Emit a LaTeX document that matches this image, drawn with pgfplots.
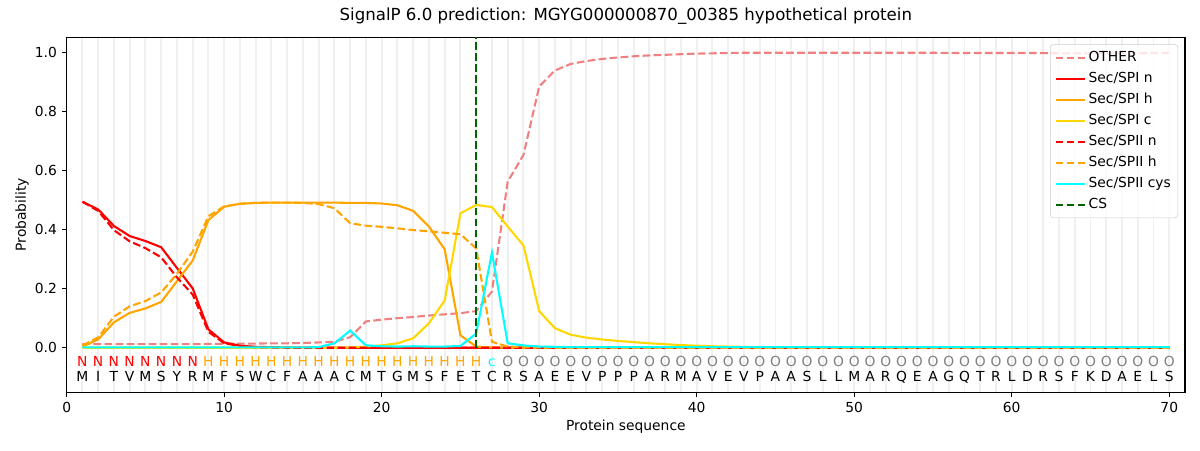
\documentclass[border=0pt]{standalone}
\usepackage{fontspec}
\setmainfont{DejaVu Sans}
\usepackage{pgfplots}
\pgfplotsset{compat=1.18}
\usepackage{pgfplotstable}
\definecolor{lightcoral}{HTML}{F08080}
\definecolor{mplorange}{HTML}{FFA500}
\definecolor{mplgold}{HTML}{FFD700}
\definecolor{mplcyan}{HTML}{00FFFF}
\definecolor{mplgreen}{HTML}{006400}
\definecolor{mplred}{HTML}{FF0000}
\definecolor{mplgray}{HTML}{808080}

\pgfplotsset{
  letter/.style={draw=none, mark=none, forget plot, nodes near coords, point meta=explicit symbolic,
     every node near coord/.append style={anchor=base, inner sep=0pt, font=\fontsize{10}{12}\selectfont, text=#1}},
  mpldash/.style={dash pattern=on 5.55bp off 2.4bp},
}

\pgfplotstableread{
x other spin spih spic spiin spiih cys
1 0.012 0.494 0.004 0.000 0.494 0.008 0.001
2 0.012 0.468 0.028 0.000 0.463 0.035 0.001
3 0.012 0.412 0.086 0.000 0.398 0.105 0.001
4 0.012 0.378 0.118 0.000 0.360 0.140 0.001
5 0.012 0.361 0.133 0.000 0.337 0.158 0.001
6 0.012 0.340 0.155 0.000 0.306 0.187 0.001
7 0.012 0.270 0.225 0.000 0.238 0.250 0.001
8 0.012 0.201 0.295 0.000 0.180 0.325 0.001
9 0.013 0.062 0.432 0.000 0.054 0.445 0.001
10 0.013 0.018 0.477 0.000 0.015 0.478 0.001
11 0.014 0.007 0.487 0.000 0.006 0.487 0.001
12 0.014 0.003 0.490 0.000 0.002 0.490 0.001
13 0.015 0.002 0.491 0.000 0.001 0.491 0.001
14 0.015 0.001 0.491 0.000 0.000 0.491 0.001
15 0.016 0.000 0.491 0.000 0.000 0.490 0.001
16 0.018 0.000 0.491 0.000 0.000 0.486 0.002
17 0.020 0.000 0.491 0.000 0.000 0.472 0.015
18 0.036 0.000 0.490 0.001 0.000 0.421 0.058
19 0.089 0.000 0.490 0.004 0.000 0.413 0.008
20 0.095 0.000 0.488 0.008 0.000 0.409 0.005
21 0.100 0.000 0.482 0.015 0.000 0.404 0.004
22 0.104 0.000 0.463 0.032 0.000 0.398 0.005
23 0.109 0.000 0.410 0.083 0.000 0.394 0.004
24 0.113 0.000 0.333 0.160 0.000 0.389 0.004
25 0.117 0.000 0.042 0.455 0.000 0.384 0.006
26 0.124 0.000 0.004 0.483 0.000 0.336 0.048
27 0.190 0.000 0.001 0.476 0.000 0.020 0.322
28 0.562 0.000 0.000 0.410 0.000 0.004 0.015
29 0.652 0.000 0.000 0.346 0.000 0.002 0.008
30 0.884 0.000 0.000 0.124 0.000 0.001 0.004
31 0.938 0.000 0.000 0.066 0.000 0.000 0.003
32 0.960 0.000 0.000 0.044 0.000 0.000 0.002
33 0.970 0.000 0.000 0.034 0.000 0.000 0.002
34 0.977 0.000 0.000 0.028 0.000 0.000 0.002
35 0.982 0.000 0.000 0.023 0.000 0.000 0.002
36 0.986 0.000 0.000 0.019 0.000 0.000 0.002
37 0.989 0.000 0.000 0.015 0.000 0.000 0.002
38 0.991 0.000 0.000 0.012 0.000 0.000 0.002
39 0.993 0.000 0.000 0.009 0.000 0.000 0.002
40 0.995 0.000 0.000 0.007 0.000 0.000 0.002
41 0.996 0.000 0.000 0.005 0.000 0.000 0.002
42 0.997 0.000 0.000 0.004 0.000 0.000 0.002
43 0.998 0.000 0.000 0.003 0.000 0.000 0.002
44 0.998 0.000 0.000 0.002 0.000 0.000 0.002
45 0.998 0.000 0.000 0.001 0.000 0.000 0.002
46 0.998 0.000 0.000 0.001 0.000 0.000 0.002
47 0.998 0.000 0.000 0.001 0.000 0.000 0.002
48 0.998 0.000 0.000 0.001 0.000 0.000 0.002
49 0.998 0.000 0.000 0.001 0.000 0.000 0.002
50 0.998 0.000 0.000 0.001 0.000 0.000 0.002
51 0.998 0.000 0.000 0.001 0.000 0.000 0.002
52 0.998 0.000 0.000 0.001 0.000 0.000 0.002
53 0.998 0.000 0.000 0.001 0.000 0.000 0.002
54 0.998 0.000 0.000 0.001 0.000 0.000 0.002
55 0.998 0.000 0.000 0.001 0.000 0.000 0.002
56 0.997 0.000 0.000 0.001 0.000 0.000 0.002
57 0.997 0.000 0.000 0.001 0.000 0.000 0.002
58 0.997 0.000 0.000 0.001 0.000 0.000 0.002
59 0.997 0.000 0.000 0.001 0.000 0.000 0.002
60 0.997 0.000 0.000 0.001 0.000 0.000 0.002
61 0.997 0.000 0.000 0.001 0.000 0.000 0.002
62 0.997 0.000 0.000 0.001 0.000 0.000 0.002
63 0.996 0.000 0.000 0.001 0.000 0.000 0.002
64 0.996 0.000 0.000 0.001 0.000 0.000 0.002
65 0.996 0.000 0.000 0.001 0.000 0.000 0.002
66 0.996 0.000 0.000 0.001 0.000 0.000 0.002
67 0.996 0.000 0.000 0.001 0.000 0.000 0.002
68 0.996 0.000 0.000 0.001 0.000 0.000 0.002
69 0.997 0.000 0.000 0.001 0.000 0.000 0.002
70 0.998 0.000 0.000 0.001 0.000 0.000 0.002
}\probs

\pgfplotstableread{
x y t
1 -0.113 M
2 -0.113 I
3 -0.113 T
4 -0.113 V
5 -0.113 M
6 -0.113 S
7 -0.113 Y
8 -0.113 R
9 -0.113 M
10 -0.113 F
11 -0.113 S
12 -0.113 W
13 -0.113 C
14 -0.113 F
15 -0.113 A
16 -0.113 A
17 -0.113 A
18 -0.113 C
19 -0.113 M
20 -0.113 T
21 -0.113 G
22 -0.113 M
23 -0.113 S
24 -0.113 F
25 -0.113 E
26 -0.113 T
27 -0.113 C
28 -0.113 R
29 -0.113 S
30 -0.113 A
31 -0.113 E
32 -0.113 E
33 -0.113 V
34 -0.113 P
35 -0.113 P
36 -0.113 P
37 -0.113 A
38 -0.113 R
39 -0.113 M
40 -0.113 A
41 -0.113 V
42 -0.113 E
43 -0.113 V
44 -0.113 P
45 -0.113 A
46 -0.113 A
47 -0.113 S
48 -0.113 L
49 -0.113 L
50 -0.113 M
51 -0.113 A
52 -0.113 R
53 -0.113 Q
54 -0.113 E
55 -0.113 A
56 -0.113 G
57 -0.113 Q
58 -0.113 T
59 -0.113 R
60 -0.113 L
61 -0.113 D
62 -0.113 R
63 -0.113 S
64 -0.113 F
65 -0.113 K
66 -0.113 D
67 -0.113 A
68 -0.113 E
69 -0.113 L
70 -0.113 S
}\seq

\pgfplotstableread{
x y t
1 -0.062 N
2 -0.062 N
3 -0.062 N
4 -0.062 N
5 -0.062 N
6 -0.062 N
7 -0.062 N
8 -0.062 N
}\labN

\pgfplotstableread{
x y t
9 -0.062 H
10 -0.062 H
11 -0.062 H
12 -0.062 H
13 -0.062 H
14 -0.062 H
15 -0.062 H
16 -0.062 H
17 -0.062 H
18 -0.062 H
19 -0.062 H
20 -0.062 H
21 -0.062 H
22 -0.062 H
23 -0.062 H
24 -0.062 H
25 -0.062 H
26 -0.062 H
}\labH

\pgfplotstableread{
x y t
27 -0.062 c
}\labC

\pgfplotstableread{
x y t
28 -0.062 O
29 -0.062 O
30 -0.062 O
31 -0.062 O
32 -0.062 O
33 -0.062 O
34 -0.062 O
35 -0.062 O
36 -0.062 O
37 -0.062 O
38 -0.062 O
39 -0.062 O
40 -0.062 O
41 -0.062 O
42 -0.062 O
43 -0.062 O
44 -0.062 O
45 -0.062 O
46 -0.062 O
47 -0.062 O
48 -0.062 O
49 -0.062 O
50 -0.062 O
51 -0.062 O
52 -0.062 O
53 -0.062 O
54 -0.062 O
55 -0.062 O
56 -0.062 O
57 -0.062 O
58 -0.062 O
59 -0.062 O
60 -0.062 O
61 -0.062 O
62 -0.062 O
63 -0.062 O
64 -0.062 O
65 -0.062 O
66 -0.062 O
67 -0.062 O
68 -0.062 O
69 -0.062 O
70 -0.062 O
}\labO

\begin{document}
\begin{tikzpicture}
\begin{axis}[
  at={(0,0)}, anchor=south west,
  scale only axis, width=805.2bp, height=255.4bp,
  xmin=0, xmax=71, ymin=-0.15, ymax=1.05,
  xtick={0,10,...,70}, ytick={0,0.2,...,1.0},
  minor xtick={1,...,70}, xminorgrids=true,
  minor grid style={black!6, line width=1.4bp},
  minor tick length=0pt,
  tick align=outside, tick pos=left,
  major tick length=3.5bp,
  every tick/.style={black, line width=0.8bp},
  axis line style={line width=0.8bp},
  /pgf/number format/assume math mode=true,
  yticklabel style={/pgf/number format/.cd, fixed, fixed zerofill, precision=1},
  ticklabel style={font=\fontsize{10}{12}\selectfont},
  xlabel={Protein sequence}, ylabel={Probability},
  label style={font=\fontsize{10}{12}\selectfont},
  every axis x label/.style={at={([yshift=-25.2bp]axis description cs:0.5,0)}, anchor=center},
  every axis y label/.style={at={([xshift=-32.2bp]axis description cs:0,0.5)}, anchor=center, rotate=90},
  title={SignalP 6.0 prediction: MGYG000000870\_00385 hypothetical protein},
  title style={font=\fontsize{12}{14}\selectfont, at={(axis description cs:0.5,1)}, anchor=base, yshift=6.2bp},
  legend cell align=left,
  legend style={at={(axis description cs:1,1)}, anchor=north east, xshift=-5bp, yshift=-5bp,
     draw=black!20, rounded corners=2bp, fill=white, fill opacity=0.8, text opacity=1,
     font=\fontsize{10}{12}\selectfont, inner xsep=3bp, inner ysep=3bp, row sep=2.2bp},
  legend image code/.code={\draw[#1] (0bp,0bp) -- (21bp,0bp);},
  clip=false,
]
\addplot[lightcoral, line width=1.5bp, mpldash] table[x=x, y=other] {\probs};
\addlegendentry{OTHER}
\addplot[mplred, line width=1.5bp] table[x=x, y=spin] {\probs};
\addlegendentry{Sec/SPI n}
\addplot[mplorange, line width=1.5bp] table[x=x, y=spih] {\probs};
\addlegendentry{Sec/SPI h}
\addplot[mplgold, line width=1.5bp] table[x=x, y=spic] {\probs};
\addlegendentry{Sec/SPI c}
\addplot[mplred, line width=1.5bp, mpldash] table[x=x, y=spiin] {\probs};
\addlegendentry{Sec/SPII n}
\addplot[mplorange, line width=1.5bp, mpldash] table[x=x, y=spiih] {\probs};
\addlegendentry{Sec/SPII h}
\addplot[mplcyan, line width=1.5bp] table[x=x, y=cys] {\probs};
\addlegendentry{Sec/SPII cys}
\addplot[mplgreen, line width=1.5bp, mpldash] coordinates {(26,0) (26,1.05)};
\addlegendentry{CS}
\addplot[letter=mplred] table[x=x, y=y, meta=t] {\labN};
\addplot[letter=mplorange] table[x=x, y=y, meta=t] {\labH};
\addplot[letter=mplcyan] table[x=x, y=y, meta=t] {\labC};
\addplot[letter=mplgray] table[x=x, y=y, meta=t] {\labO};
\addplot[letter=black] table[x=x, y=y, meta=t] {\seq};
\end{axis}
\pgfresetboundingbox
\path[use as bounding box] (-48bp,-41.76bp) rectangle (816bp,282.3bp);
\end{tikzpicture}
\end{document}
